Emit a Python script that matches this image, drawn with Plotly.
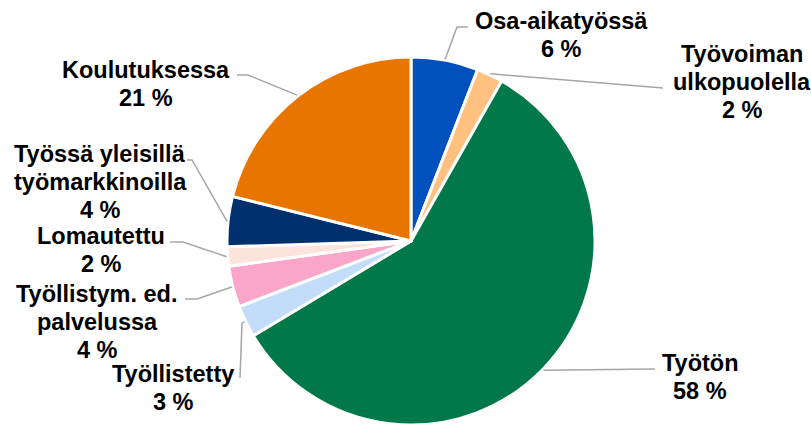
import math
import plotly.graph_objects as go

labels = ["Osa-aikatyössä", "Työvoiman ulkopuolella", "Työtön", "Työllistetty",
          "Työllistym. ed. palvelussa", "Lomautettu", "Työssä yleisillä työmarkkinoilla",
          "Koulutuksessa"]
label_lines = [["Osa-aikatyössä"], ["Työvoiman", "ulkopuolella"], ["Työtön"], ["Työllistetty"],
               ["Työllistym. ed.", "palvelussa"], ["Lomautettu"], ["Työssä yleisillä", "työmarkkinoilla"],
               ["Koulutuksessa"]]
values = [5.9, 2.3, 58.2, 2.8, 3.6, 1.7, 4.4, 21.1]
colors = ["#0050BE", "#FFC080", "#00784A", "#C3DCFA", "#F9A6C8", "#FCE4DC", "#00306E", "#E87500"]

W, H = 811, 427
CX, CY, R = 411, 241, 184
LINE = 28

# label centre x and first-line y (px), elbow points (px) for leader lines
label_pos = [(561, 21), (742, 54), (700, 363), (173, 374), (97, 294), (101, 236), (100, 154), (146, 70)]
elbows = [[(457, 27), (468, 27)],
          [(663, 88)],
          [(655, 369)],
          [(242, 323), (240, 378)],
          [(197, 299), (185, 299)],
          [(183, 242), (170, 242)],
          [(192, 160), (187, 160)],
          [(248, 75), (237, 75)]]

def px(x):
    return x / W

def py(y):
    return 1 - y / H

fig = go.Figure(go.Pie(
    labels=labels, values=values, sort=False, direction="clockwise", rotation=0,
    marker=dict(colors=colors, line=dict(color="white", width=3)),
    textinfo="none", hoverinfo="label+percent",
    domain=dict(x=[px(CX - R), px(CX + R)], y=[py(CY + R), py(CY - R)]),
))

total = sum(values)
cum = 0
annotations = []
shapes = []
for i, v in enumerate(values):
    mid = (cum + v / 2) / total * 2 * math.pi
    cum += v
    sx = CX + (R + 1) * math.sin(mid)
    sy = CY - (R + 1) * math.cos(mid)
    pts = [(sx, sy)] + elbows[i]
    path = "M " + " L ".join(f"{px(x)},{py(y)}" for x, y in pts)
    shapes.append(dict(type="path", path=path, xref="paper", yref="paper",
                       line=dict(color="#A6A6A6", width=1.5)))
    pct = round(v / total * 100)
    lx, ly = label_pos[i]
    lines = label_lines[i] + [f"{pct} %"]
    for j, t in enumerate(lines):
        annotations.append(dict(
            x=px(lx), y=py(ly + j * LINE), xref="paper", yref="paper", showarrow=False,
            text=f"<b>{t}</b>", align="center",
            xanchor="center", yanchor="middle",
            font=dict(family="Liberation Sans, Arial, sans-serif", size=23.5, color="#000000"),
        ))

fig.update_layout(
    width=W, height=H, margin=dict(l=0, r=0, t=0, b=0),
    paper_bgcolor="white", plot_bgcolor="white", showlegend=False,
    annotations=annotations, shapes=shapes,
)
fig.write_html("out.html", config={"displayModeBar": False},
               post_script="document.body.style.margin='0';")
